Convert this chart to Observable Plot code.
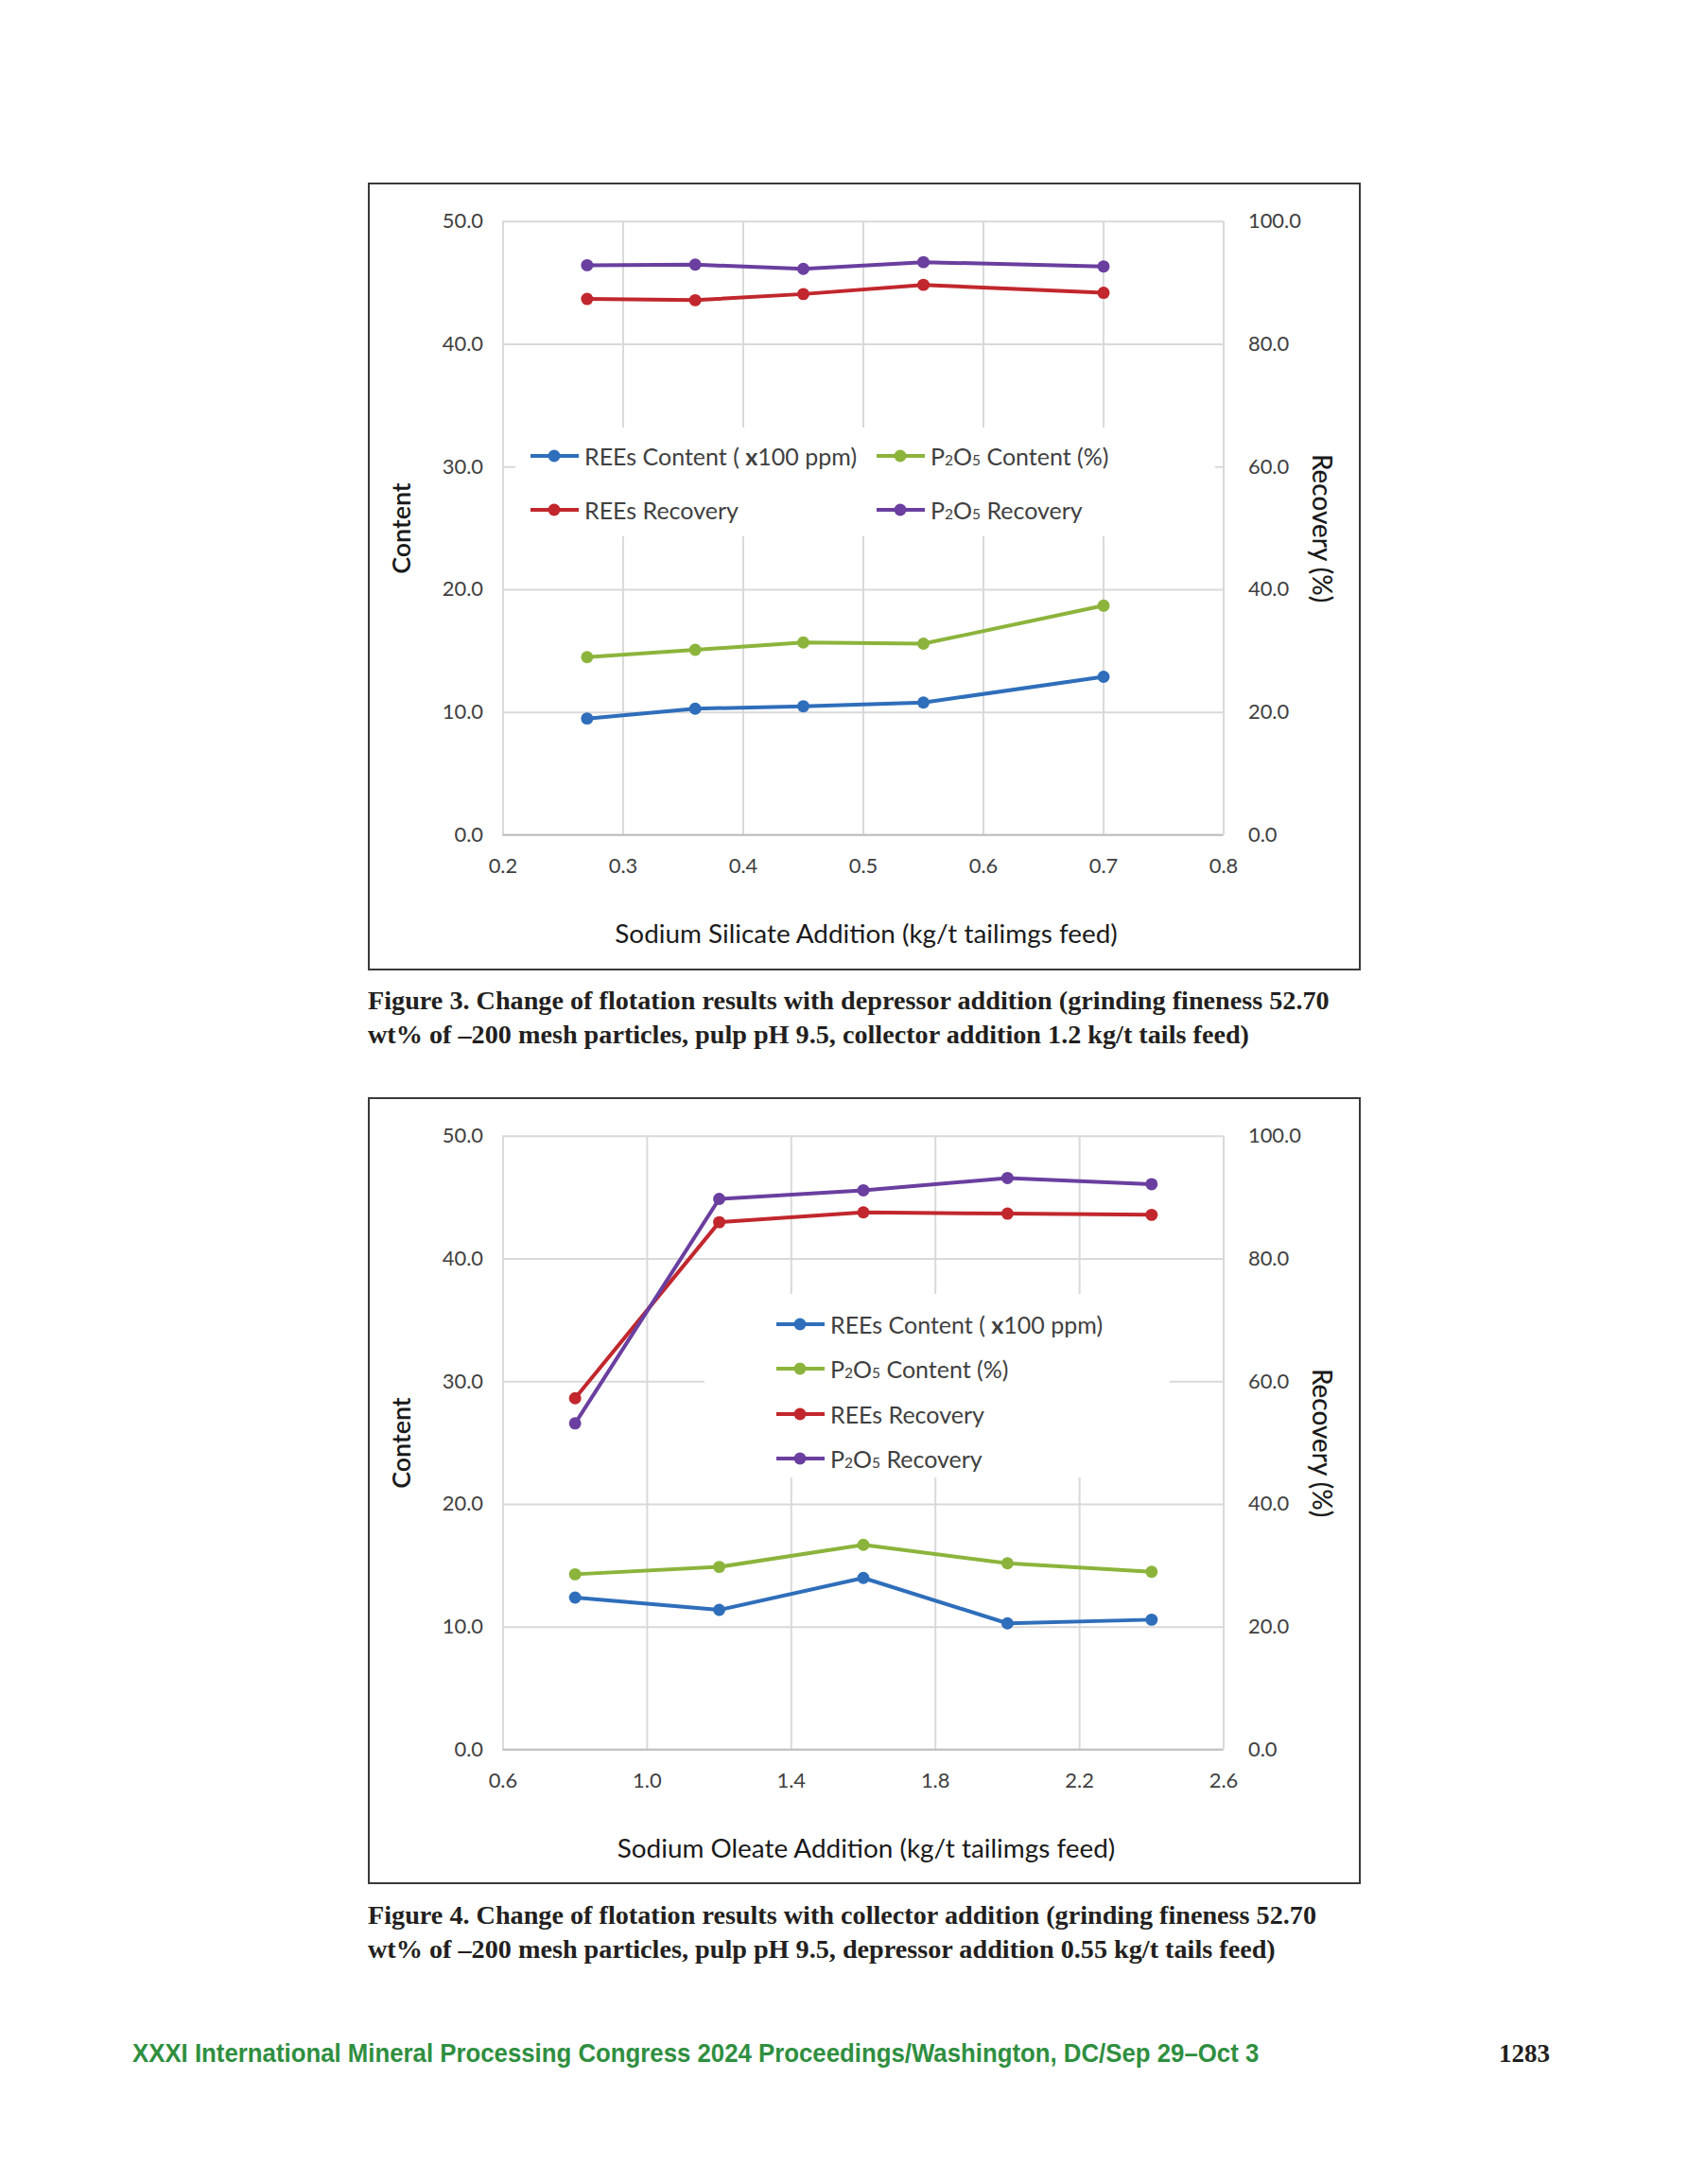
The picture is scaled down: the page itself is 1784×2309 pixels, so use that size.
<!DOCTYPE html>
<html>
<head>
<meta charset="utf-8">
<script src="https://cdn.jsdelivr.net/npm/d3@7"></script>
<script src="https://cdn.jsdelivr.net/npm/@observablehq/plot@0.6"></script>
<style>
  html, body { margin: 0; padding: 0; background: #fff; }
  body { position: relative; width: 1784px; height: 2309px; overflow: hidden; }
  .frame { position: absolute; border: 2px solid #3a3a3a; box-sizing: border-box; background: #fff; }
  .frame svg { position: absolute; left: -2px; top: -2px; }
  .legend { position: absolute; background: #fff; }
  .item { position: absolute; height: 30px; font-family: Lato, "Open Sans", sans-serif; font-size: 25px; color: #404040; white-space: nowrap; line-height: 30px; }
  .item svg { position: absolute; left: 0; top: 8px; }
  .item .txt { position: absolute; top: 0; }
  .sub { font-size: 0.62em; }
  .caption { position: absolute; left: 389px; font-family: "Liberation Serif", "DejaVu Serif", serif; font-weight: bold; font-size: 28.2px; line-height: 36px; color: #231f20; white-space: nowrap; }
  .footer { position: absolute; top: 2154px; left: 140px; font-family: "Liberation Sans Narrow", "Liberation Sans", Arial, sans-serif; font-weight: bold; font-size: 27px; color: #2f8f3f; white-space: nowrap; line-height: 34px; transform: scaleX(0.955); transform-origin: left center; }
  .pagenum { position: absolute; top: 2154px; left: 1585px; font-family: "Liberation Serif", serif; font-weight: bold; font-size: 27px; color: #231f20; line-height: 34px; }
</style>
</head>
<body>
<script>
// ---------- Data ----------
// Figure 3: depressor (sodium silicate) addition
const fig3X = [0.27, 0.36, 0.45, 0.55, 0.70];
const fig3ReesContent = [9.5, 10.3, 10.5, 10.8, 12.9];
const fig3P2O5Content = [14.5, 15.1, 15.7, 15.6, 18.7];
const fig3ReesRecovery = [87.4, 87.2, 88.2, 89.7, 88.4];
const fig3P2O5Recovery = [92.9, 93.0, 92.3, 93.4, 92.7];
const fig3XTicks = [0.2, 0.3, 0.4, 0.5, 0.6, 0.7, 0.8];

// Figure 4: collector (sodium oleate) addition
const fig4X = [0.8, 1.2, 1.6, 2.0, 2.4];
const fig4ReesContent = [12.4, 11.4, 14.0, 10.3, 10.6];
const fig4P2O5Content = [14.3, 14.9, 16.7, 15.2, 14.5];
const fig4ReesRecovery = [57.3, 86.0, 87.6, 87.4, 87.2];
const fig4P2O5Recovery = [53.2, 89.8, 91.2, 93.2, 92.2];
const fig4XTicks = [0.6, 1.0, 1.4, 1.8, 2.2, 2.6];

const contentTicks = [0, 10, 20, 30, 40, 50];
const recoveryTicks = [0, 20, 40, 60, 80, 100];

const seriesNames = ["REEs Content ( x100 ppm)", "P2O5 Content (%)", "REEs Recovery", "P2O5 Recovery"];
const seriesColors = ["#2f6eba", "#8cb43c", "#c1272d", "#6a3f9f"];
const seriesAxis = ["content", "content", "recovery", "recovery"];

const xLabels = ["Sodium Silicate Addition (kg/t tailimgs feed)", "Sodium Oleate Addition (kg/t tailimgs feed)"];
const yLeftLabel = "Content";
const yRightLabel = "Recovery (%)";

const captions = [
  ["Figure 3. Change of flotation results with depressor addition (grinding fineness 52.70",
   "wt% of \u2013200 mesh particles, pulp pH 9.5, collector addition 1.2 kg/t tails feed)"],
  ["Figure 4. Change of flotation results with collector addition (grinding fineness 52.70",
   "wt% of \u2013200 mesh particles, pulp pH 9.5, depressor addition 0.55 kg/t tails feed)"]
];
const footerText = "XXXI International Mineral Processing Congress 2024 Proceedings/Washington, DC/Sep 29\u2013Oct 3";
const pageNumber = "1283";

// ---------- Drawing ----------
const recMax = recoveryTicks[recoveryTicks.length - 1];
const conMax = contentTicks[contentTicks.length - 1];
const ratio = recMax / conMax;

function makeChart(xs, values, xTicks, xLabel) {
  const marks = [
    Plot.gridX(xTicks, {stroke: "#d9d9d9", strokeOpacity: 1, strokeWidth: 2}),
    Plot.gridY(contentTicks, {stroke: "#d9d9d9", strokeOpacity: 1, strokeWidth: 2}),
    Plot.ruleY([0], {stroke: "#bfbfbf", strokeWidth: 2}),
    Plot.axisY(contentTicks, {anchor: "left", tickSize: 0, tickPadding: 21, tickFormat: d => d.toFixed(1), label: null, color: "#404040"}),
    Plot.axisY(contentTicks, {anchor: "right", tickSize: 0, tickPadding: 26, tickFormat: d => (d * ratio).toFixed(1), label: null, color: "#404040"}),
    Plot.axisX(xTicks, {anchor: "bottom", tickSize: 0, tickPadding: 25, tickFormat: d => d.toFixed(1), label: null, color: "#404040"}),
    Plot.text([yLeftLabel], {frameAnchor: "left", dx: -107, rotate: -90, textAnchor: "middle", lineAnchor: "middle", fontSize: 27, fill: "#1a1a1a", fontWeight: 600}),
    Plot.text([yRightLabel], {frameAnchor: "right", dx: 103, rotate: 90, textAnchor: "middle", lineAnchor: "middle", fontSize: 28, fill: "#1a1a1a", fontWeight: 500}),
    Plot.text([xLabel], {frameAnchor: "bottom", dy: 106, dx: 3, textAnchor: "middle", lineAnchor: "middle", fontSize: 28, fill: "#1a1a1a"})
  ];
  values.forEach((vals, i) => {
    const rows = xs.map((x, j) => ({x, y: seriesAxis[i] === "recovery" ? vals[j] / ratio : vals[j]}));
    marks.push(Plot.line(rows, {x: "x", y: "y", stroke: seriesColors[i], strokeWidth: 4}));
    marks.push(Plot.dot(rows, {x: "x", y: "y", fill: seriesColors[i], r: 6.5}));
  });
  return Plot.plot({
    width: 1050, height: 832,
    marginLeft: 143, marginRight: 142, marginTop: 41, marginBottom: 140,
    x: {domain: [xTicks[0], xTicks[xTicks.length - 1]]},
    y: {domain: [0, conMax]},
    style: {fontFamily: "Lato, 'Open Sans', sans-serif", fontSize: "22px", background: "transparent", overflow: "visible"},
    marks
  });
}

function labelHTML(name) {
  return name
    .replace("P2O5", 'P<span class="sub">2</span>O<span class="sub">5</span>')
    .replace("x100", '<b>x</b>100');
}

function addFrame(top, height, chart) {
  const f = document.createElement("div");
  f.className = "frame";
  f.style.left = "389px"; f.style.top = top + "px";
  f.style.width = "1050px"; f.style.height = height + "px";
  f.appendChild(chart);
  document.body.appendChild(f);
}

function addLegend(box, items) {
  const lg = document.createElement("div");
  lg.className = "legend";
  lg.style.left = box[0] + "px"; lg.style.top = box[1] + "px";
  lg.style.width = (box[2] - box[0]) + "px"; lg.style.height = (box[3] - box[1]) + "px";
  document.body.appendChild(lg);
  items.forEach(([i, x, y]) => {
    const it = document.createElement("div");
    it.className = "item";
    it.style.left = x + "px"; it.style.top = (y - 15) + "px";
    it.innerHTML = `<svg width="54" height="14"><line x1="1" y1="7" x2="52" y2="7" stroke="${seriesColors[i]}" stroke-width="4"/><circle cx="26" cy="7" r="6.5" fill="${seriesColors[i]}"/></svg><span class="txt" style="left:58px">${labelHTML(seriesNames[i])}</span>`;
    document.body.appendChild(it);
  });
}

function addCaption(top, lines) {
  const c = document.createElement("div");
  c.className = "caption";
  c.style.top = top + "px";
  c.innerHTML = lines.join("<br>");
  document.body.appendChild(c);
}

// Figure 3
addFrame(193, 833, makeChart(fig3X, [fig3ReesContent, fig3P2O5Content, fig3ReesRecovery, fig3P2O5Recovery], fig3XTicks, xLabels[0]));
addLegend([545, 452, 1285, 567], [[0, 560, 482], [1, 926, 482], [2, 560, 539], [3, 926, 539]]);
addCaption(1040, captions[0]);

// Figure 4
addFrame(1160, 832, makeChart(fig4X, [fig4ReesContent, fig4P2O5Content, fig4ReesRecovery, fig4P2O5Recovery], fig4XTicks, xLabels[1]));
addLegend([745, 1368, 1237, 1562], [[0, 820, 1400], [1, 820, 1447], [2, 820, 1495], [3, 820, 1542]]);
addCaption(2007, captions[1]);

const ft = document.createElement("div");
ft.className = "footer"; ft.textContent = footerText;
document.body.appendChild(ft);
const pn = document.createElement("div");
pn.className = "pagenum"; pn.textContent = pageNumber;
document.body.appendChild(pn);
</script>
</body>
</html>
